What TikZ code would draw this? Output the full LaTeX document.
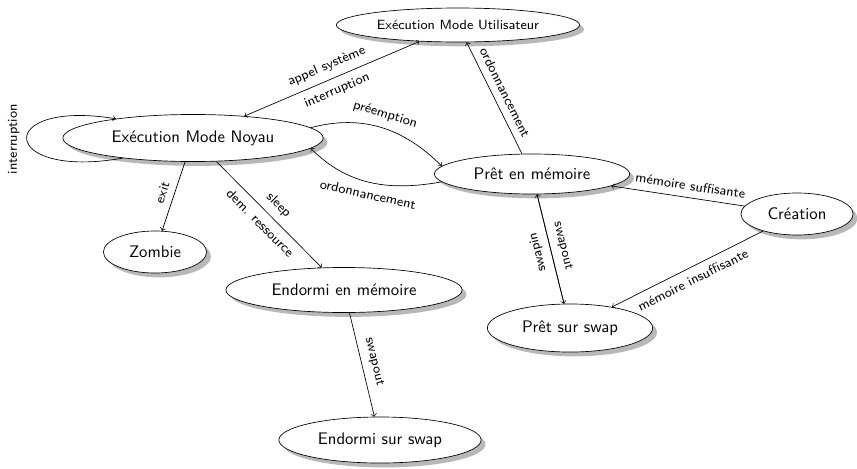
\documentclass[tikz,border=0pt]{standalone}
\usetikzlibrary{shapes.geometric,shadows}
\begin{document}
\begin{tikzpicture}[x=0.021cm,y=-0.021cm,>=to,
  state/.style={ellipse, draw, fill=white, inner sep=0pt,
    drop shadow={fill=black!28, opacity=1, shadow xshift=2.6pt, shadow yshift=-2.6pt}, font=\sffamily},
  lbl/.style={font=\sffamily\footnotesize, inner sep=4.2pt}]
\useasboundingbox (0,0) rectangle (857,468);
\node[state, minimum width=145.3pt, minimum height=20.3pt, font=\sffamily\footnotesize] (util) at (458,25) {Exécution Mode Utilisateur};
\node[state, minimum width=155.5pt, minimum height=28.1pt] (noyau) at (193,138) {Exécution Mode Noyau};
\node[state, minimum width=116.6pt, minimum height=23.9pt] (pret) at (532,174) {Prêt en mémoire};
\node[state, minimum width=67pt, minimum height=25.1pt] (creation) at (797,214) {Création};
\node[state, minimum width=98.7pt, minimum height=28.7pt] (pswap) at (570,328) {Prêt sur swap};
\node[state, minimum width=61.6pt, minimum height=25.1pt] (zombie) at (155,252) {Zombie};
\node[state, minimum width=141.1pt, minimum height=26.9pt] (endmem) at (344,290) {Endormi en mémoire};
\node[state, minimum width=120.8pt, minimum height=27.5pt] (endswap) at (380,440) {Endormi sur swap};

\draw[<->] (noyau) -- node[lbl,sloped,above]{appel système} node[lbl,sloped,below]{interruption} (util);
\draw[->] (noyau.196) .. controls +(-125,22) and +(-122,-20) .. node[lbl,pos=0.5,rotate=90,anchor=south]{interruption} (noyau.166);
\draw[->] (noyau.5) to[out=15,in=135] node[lbl,sloped,above]{préemption} (pret.175);
\draw[->] (pret.185) to[out=190,in=-45] node[lbl,sloped,below]{ordonnancement} (noyau.-5);
\draw[->] (pret) -- node[lbl,sloped,above]{ordonnancement} (util);
\draw[->] (creation) -- node[lbl,sloped,above,pos=0.42]{mémoire suffisante} (pret);
\draw[->] (creation) -- node[lbl,sloped,below]{mémoire insuffisante} (pswap);
\draw[->] (pret) -- node[lbl,sloped,above]{swapout} (pswap);
\draw[->] (pswap) -- node[lbl,sloped,above,allow upside down]{swapin} (pret);
\draw[->] (noyau) -- node[lbl,sloped,above]{exit} (zombie);
\draw[->] (noyau) -- node[lbl,sloped,above]{sleep} node[lbl,sloped,below]{dem. ressource} (endmem);
\draw[->] (endmem) -- node[lbl,sloped,above]{swapout} (endswap);
\end{tikzpicture}
\end{document}
